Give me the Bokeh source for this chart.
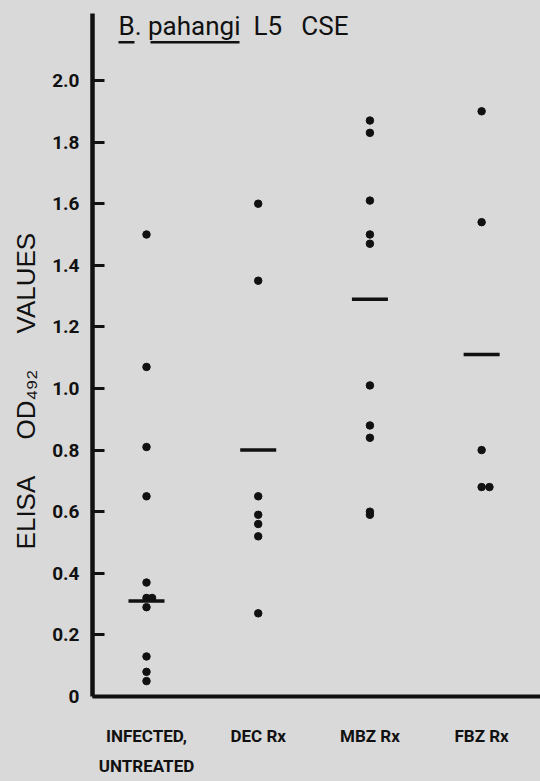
import numpy as np
from bokeh.plotting import figure
from bokeh.models import FixedTicker, Label, BoxAnnotation, Range1d
from bokeh.embed import file_html
from bokeh.resources import INLINE

# ---------------- data ----------------
group_labels = ["INFECTED,\nUNTREATED", "DEC Rx", "MBZ Rx", "FBZ Rx"]
infected_vals = [1.50, 1.07, 0.81, 0.65, 0.37, 0.32, 0.32, 0.29, 0.13, 0.08, 0.05]
infected_jit = [0, 0, 0, 0, 0, 0, 0.05, 0, 0, 0, 0]
dec_vals = [1.60, 1.35, 0.65, 0.59, 0.56, 0.52, 0.27]
dec_jit = [0, 0, 0, 0, 0, 0, 0]
mbz_vals = [1.87, 1.83, 1.61, 1.50, 1.47, 1.01, 0.88, 0.84, 0.60, 0.59]
mbz_jit = [0, 0, 0, 0, 0, 0, 0, 0, 0, 0]
fbz_vals = [1.90, 1.54, 0.80, 0.68, 0.68]
fbz_jit = [0, 0, 0, 0, 0.07]
group_lines = [0.31, 0.80, 1.29, 1.11]
y_ticks = [0.0, 0.2, 0.4, 0.6, 0.8, 1.0, 1.2, 1.4, 1.6, 1.8, 2.0]
y_tick_labels = ["0", "0.2", "0.4", "0.6", "0.8", "1.0", "1.2", "1.4", "1.6", "1.8", "2.0"]
NB = "\u00a0"
title_text = "B. pahangi" + NB * 2 + "L5" + NB * 3 + "CSE"
y_title = "ELISA" + NB * 5 + "OD\u2084\u2089\u2082" + NB * 5 + "VALUES" + NB * 10

BG = "#d9d9d9"
INK = "#111111"
LBL = "Roboto"
REG = "Liberation Sans"

p = figure(width=540, height=781, output_backend="svg", toolbar_location=None,
           x_range=Range1d(0.5166, 4.527), y_range=Range1d(0, 2.2175),
           min_border_left=92, min_border_right=0, min_border_top=13, min_border_bottom=85)
p.background_fill_color = BG
p.border_fill_color = BG
p.outline_line_color = None
p.grid.visible = False

# y axis
ya = p.yaxis[0]
ya.ticker = FixedTicker(ticks=y_ticks)
ya.major_label_overrides = {t: l for t, l in zip(y_ticks, y_tick_labels)}
ya.axis_line_width = 4.5
ya.axis_line_color = INK
ya.major_tick_in = 12
ya.major_tick_out = 0
ya.major_tick_line_width = 3
ya.major_tick_line_color = INK
ya.minor_tick_line_color = None
ya.major_label_standoff = 13
ya.major_label_text_font = LBL
ya.major_label_text_font_style = "bold"
ya.major_label_text_font_size = "19px"
ya.major_label_text_color = INK
ya.axis_label = y_title
ya.axis_label_text_font = REG
ya.axis_label_text_font_style = "normal"
ya.axis_label_text_font_size = "26px"
ya.axis_label_text_color = INK
ya.axis_label_standoff = 8

# x axis
xa = p.xaxis[0]
xa.ticker = FixedTicker(ticks=[1, 2, 3, 4])
xa.major_label_overrides = {i + 1: l for i, l in enumerate(group_labels)}
xa.axis_line_width = 4
xa.axis_line_color = INK
xa.major_tick_in = 0
xa.major_tick_out = 0
xa.minor_tick_line_color = None
xa.major_label_standoff = 29
xa.major_label_text_font = LBL
xa.major_label_text_font_style = "bold"
xa.major_label_text_font_size = "17px"
xa.major_label_text_line_height = 1.5
xa.major_label_text_color = INK

# points
xs, ys = [], []
for gi, (vals, jit) in enumerate([(infected_vals, infected_jit), (dec_vals, dec_jit),
                                  (mbz_vals, mbz_jit), (fbz_vals, fbz_jit)]):
    for v, j in zip(vals, jit):
        xs.append(gi + 1 + j)
        ys.append(v)
p.scatter(xs, ys, size=7.5, fill_color=INK, line_color=INK)

# group lines
p.scatter([1, 2, 3, 4], group_lines, marker="dash", size=36, line_width=3.5, line_color=INK)

# title (underlined genus/species)
p.add_layout(Label(x=26, y=671, x_units="screen", y_units="screen",
                   text=title_text, text_font=LBL, text_font_size="26px",
                   text_color=INK, text_baseline="alphabetic", text_align="left"))
for l, r in [(26, 42), (58, 147)]:
    p.add_layout(BoxAnnotation(left=l, right=r, bottom=653, top=655.5,
                               left_units="screen", right_units="screen",
                               bottom_units="screen", top_units="screen",
                               fill_color=INK, fill_alpha=1, line_color=None))

html = file_html(p, INLINE)
html = html.replace("<head>", "<head><style>html,body{background:%s;}</style>" % BG, 1)
open("out.html", "w").write(html)
